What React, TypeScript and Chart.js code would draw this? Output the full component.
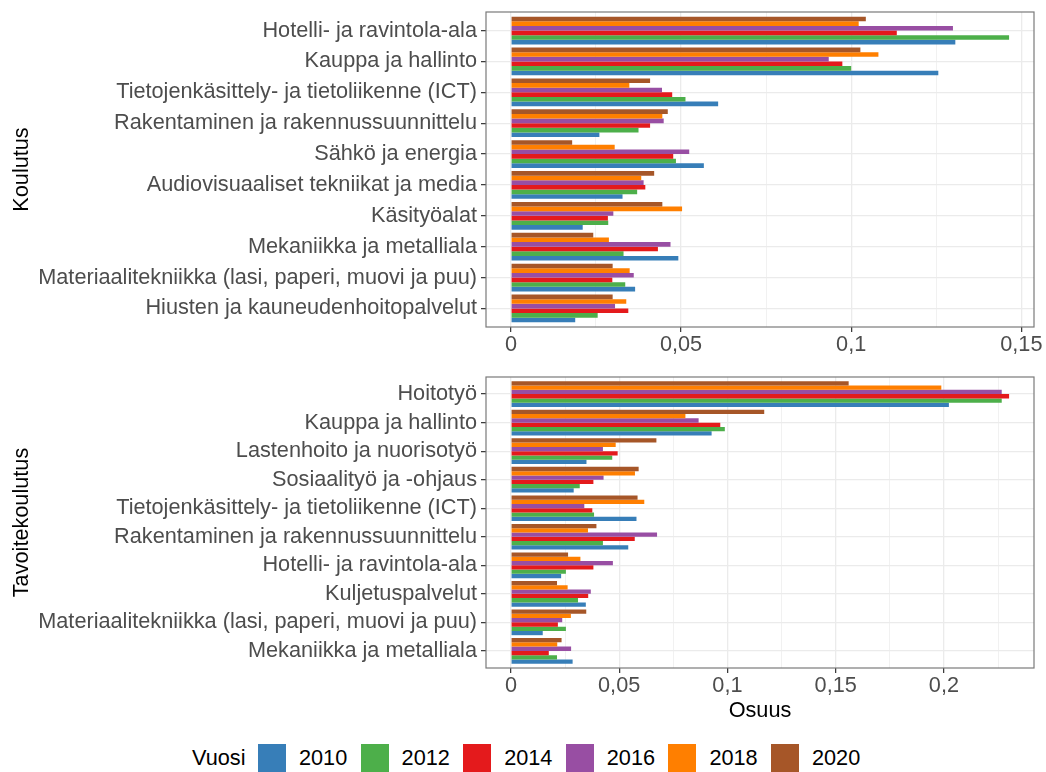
import React, { useEffect, useRef } from "react";
import { Chart, registerables } from "chart.js";

Chart.register(...registerables);

const FONT = "'Liberation Sans', Arial, Helvetica, sans-serif";
const FS = 21.7;

const years = ["2010", "2012", "2014", "2016", "2018", "2020"];
const yearColors = ["#377EB8", "#4DAF4A", "#E41A1C", "#984EA3", "#FF7F00", "#A65628"];

// Upper panel: Koulutus
const topCategories = [
  "Hotelli- ja ravintola-ala",
  "Kauppa ja hallinto",
  "Tietojenkäsittely- ja tietoliikenne (ICT)",
  "Rakentaminen ja rakennussuunnittelu",
  "Sähkö ja energia",
  "Audiovisuaaliset tekniikat ja media",
  "Käsityöalat",
  "Mekaniikka ja metalliala",
  "Materiaalitekniikka (lasi, paperi, muovi ja puu)",
  "Hiusten ja kauneudenhoitopalvelut",
];
const top2010 = [0.1306, 0.1256, 0.0609, 0.026, 0.0567, 0.0328, 0.0211, 0.0492, 0.0365, 0.0189];
const top2012 = [0.1464, 0.1, 0.0513, 0.0375, 0.0485, 0.0371, 0.0286, 0.0331, 0.0336, 0.0255];
const top2014 = [0.1134, 0.0974, 0.0474, 0.0409, 0.0477, 0.0395, 0.0285, 0.0432, 0.0298, 0.0345];
const top2016 = [0.1299, 0.0934, 0.0444, 0.0449, 0.0524, 0.039, 0.0301, 0.0469, 0.0361, 0.0306];
const top2018 = [0.1022, 0.108, 0.0348, 0.0445, 0.0305, 0.0383, 0.0503, 0.0288, 0.0349, 0.0339];
const top2020 = [0.1043, 0.1027, 0.0409, 0.0461, 0.018, 0.0421, 0.0445, 0.0242, 0.0299, 0.0299];
const topTickValues = [0, 0.05, 0.1, 0.15];
const topTickLabels = ["0", "0,05", "0,1", "0,15"];

// Lower panel: Tavoitekoulutus
const bottomCategories = [
  "Hoitotyö",
  "Kauppa ja hallinto",
  "Lastenhoito ja nuorisotyö",
  "Sosiaalityö ja -ohjaus",
  "Tietojenkäsittely- ja tietoliikenne (ICT)",
  "Rakentaminen ja rakennussuunnittelu",
  "Hotelli- ja ravintola-ala",
  "Kuljetuspalvelut",
  "Materiaalitekniikka (lasi, paperi, muovi ja puu)",
  "Mekaniikka ja metalliala",
];
const bot2010 = [0.2023, 0.0927, 0.0349, 0.029, 0.058, 0.0542, 0.0232, 0.0346, 0.0147, 0.0285];
const bot2012 = [0.2267, 0.0988, 0.0468, 0.0318, 0.0384, 0.0425, 0.0254, 0.031, 0.0254, 0.0213];
const bot2014 = [0.2301, 0.0967, 0.0493, 0.0381, 0.0376, 0.0572, 0.0381, 0.0357, 0.0217, 0.0175];
const bot2016 = [0.2267, 0.0867, 0.0425, 0.0428, 0.0339, 0.0675, 0.0471, 0.0369, 0.0237, 0.0278];
const bot2018 = [0.1988, 0.0806, 0.0484, 0.0573, 0.0616, 0.0356, 0.0321, 0.0262, 0.0277, 0.0214];
const bot2020 = [0.156, 0.117, 0.0672, 0.059, 0.0585, 0.0395, 0.0264, 0.0213, 0.0348, 0.0234];
const bottomTickValues = [0, 0.05, 0.1, 0.15, 0.2];
const bottomTickLabels = ["0", "0,05", "0,1", "0,15", "0,2"];

const topSeries = [top2010, top2012, top2014, top2016, top2018, top2020];
const bottomSeries = [bot2010, bot2012, bot2014, bot2016, bot2018, bot2020];

const panelBorder = {
  id: "panelBorder",
  afterDraw(chart: any) {
    const { ctx, chartArea: a } = chart;
    ctx.save();
    ctx.strokeStyle = "#7a7a7a";
    ctx.lineWidth = 1.2;
    ctx.strokeRect(a.left, a.top, a.right - a.left, a.bottom - a.top);
    ctx.restore();
  },
};

type PanelOpts = {
  cats: string[];
  series: number[][];
  tickValues: number[];
  tickLabels: string[];
  yTitle: string;
  xTitle?: string;
  padTop: number;
  xHeight: number;
  titlePadBottom?: number;
};

function buildConfig(p: PanelOpts): any {
  let maxV = 0;
  p.series.forEach((s) => s.forEach((v) => (maxV = Math.max(maxV, v))));
  const xmin = -0.05 * maxV;
  const xmax = 1.05 * maxV;
  const majorStep = p.tickValues[1] - p.tickValues[0];
  const minorStep = majorStep / 2;
  const isMajor = (v: number) => p.tickValues.some((t) => Math.abs(t - v) < 1e-9);
  const allTicks: number[] = [];
  for (let k = Math.ceil(xmin / minorStep); k * minorStep <= xmax + 1e-12; k++) {
    allTicks.push(Math.round(k * minorStep * 1e6) / 1e6);
  }
  const order = [5, 4, 3, 2, 1, 0];
  const datasets = order.map((si) => ({
    label: years[si],
    data: p.series[si].map((v, i) => ({ x: v, y: i })),
    backgroundColor: yearColors[si],
    borderWidth: 0,
    categoryPercentage: 0.9,
    barPercentage: 1.0,
  }));
  const tickFont = { family: FONT, size: FS };
  return {
    type: "bar",
    data: { datasets },
    options: {
      indexAxis: "y",
      responsive: false,
      maintainAspectRatio: false,
      animation: false,
      events: [],
      layout: { padding: { top: p.padTop, right: 12, left: 0, bottom: 0 } },
      plugins: { legend: { display: false }, tooltip: { enabled: false } },
      scales: {
        x: {
          type: "linear",
          bounds: "data",
          min: xmin,
          max: xmax,
          afterBuildTicks: (s: any) => {
            s.ticks = allTicks.map((v) => ({ value: v }));
          },
          afterFit: (s: any) => {
            s.height = p.xHeight;
            s.paddingLeft = 0;
            s.paddingRight = 0;
          },
          ticks: {
            autoSkip: false,
            maxRotation: 0,
            padding: 0,
            color: "#4D4D4D",
            font: tickFont,
            callback: (v: number) => {
              const i = p.tickValues.findIndex((t) => Math.abs(t - v) < 1e-9);
              return i >= 0 ? p.tickLabels[i] : "";
            },
          },
          grid: {
            color: "#EBEBEB",
            lineWidth: (c: any) => (c.tick && isMajor(c.tick.value) ? 1.3 : 0.7),
            tickColor: (c: any) => (c.tick && isMajor(c.tick.value) ? "#333333" : "rgba(0,0,0,0)"),
            tickWidth: 1.2,
            tickLength: 5,
          },
          border: { display: false },
          title: p.xTitle
            ? {
                display: true,
                text: p.xTitle,
                color: "#000000",
                font: { family: FONT, size: FS },
                padding: { top: 0, bottom: p.titlePadBottom ?? 0 },
              }
            : { display: false },
        },
        y: {
          type: "linear",
          bounds: "data",
          offset: false,
          reverse: true,
          min: -0.6,
          max: p.cats.length - 0.4,
          afterBuildTicks: (s: any) => {
            s.ticks = p.cats.map((_, i) => ({ value: i }));
          },
          afterFit: (s: any) => {
            s.width = 486;
            s.paddingTop = 0;
            s.paddingBottom = 0;
          },
          ticks: {
            autoSkip: false,
            padding: 4,
            color: "#4D4D4D",
            font: tickFont,
            callback: (v: number) => p.cats[v],
          },
          grid: {
            offset: false,
            color: "#EBEBEB",
            lineWidth: 1.3,
            tickColor: "#333333",
            tickWidth: 1.2,
            tickLength: 5,
          },
          border: { display: false },
          title: {
            display: true,
            text: p.yTitle,
            color: "#000000",
            font: { family: FONT, size: FS },
            padding: { top: 9, bottom: 0 },
          },
        },
      },
    },
    plugins: [panelBorder],
  };
}

function Panel(props: PanelOpts & { top: number; height: number }) {
  const ref = useRef<HTMLCanvasElement | null>(null);
  useEffect(() => {
    if (!ref.current) return;
    const chart = new Chart(ref.current, buildConfig(props));
    return () => chart.destroy();
  }, []);
  return (
    <canvas
      ref={ref}
      width={1046}
      height={props.height}
      style={{ position: "absolute", left: 0, top: props.top, width: 1046, height: props.height }}
    />
  );
}

export default function App() {
  return (
    <div
      style={{
        position: "absolute",
        left: 0,
        top: 0,
        width: 1046,
        height: 772,
        background: "#ffffff",
        fontFamily: FONT,
        overflow: "hidden",
      }}
    >
      <Panel
        top={0}
        height={362}
        cats={topCategories}
        series={topSeries}
        tickValues={topTickValues}
        tickLabels={topTickLabels}
        yTitle="Koulutus"
        padTop={12}
        xHeight={35}
      />
      <Panel
        top={362}
        height={370}
        cats={bottomCategories}
        series={bottomSeries}
        tickValues={bottomTickValues}
        tickLabels={bottomTickLabels}
        yTitle="Tavoitekoulutus"
        xTitle="Osuus"
        padTop={15}
        xHeight={64}
        titlePadBottom={8}
      />
      <div
        style={{
          position: "absolute",
          left: 192,
          top: 744,
          height: 28,
          lineHeight: "28px",
          fontSize: FS,
          color: "#000",
          whiteSpace: "nowrap",
        }}
      >
        Vuosi
      </div>
      {years.map((y, i) => (
        <React.Fragment key={y}>
          <div
            style={{
              position: "absolute",
              left: 258 + 102.6 * i,
              top: 744,
              width: 28,
              height: 28,
              background: yearColors[i],
            }}
          />
          <div
            style={{
              position: "absolute",
              left: 299 + 102.6 * i,
              top: 744,
              height: 28,
              lineHeight: "28px",
              fontSize: FS,
              color: "#000",
              whiteSpace: "nowrap",
            }}
          >
            {y}
          </div>
        </React.Fragment>
      ))}
    </div>
  );
}
